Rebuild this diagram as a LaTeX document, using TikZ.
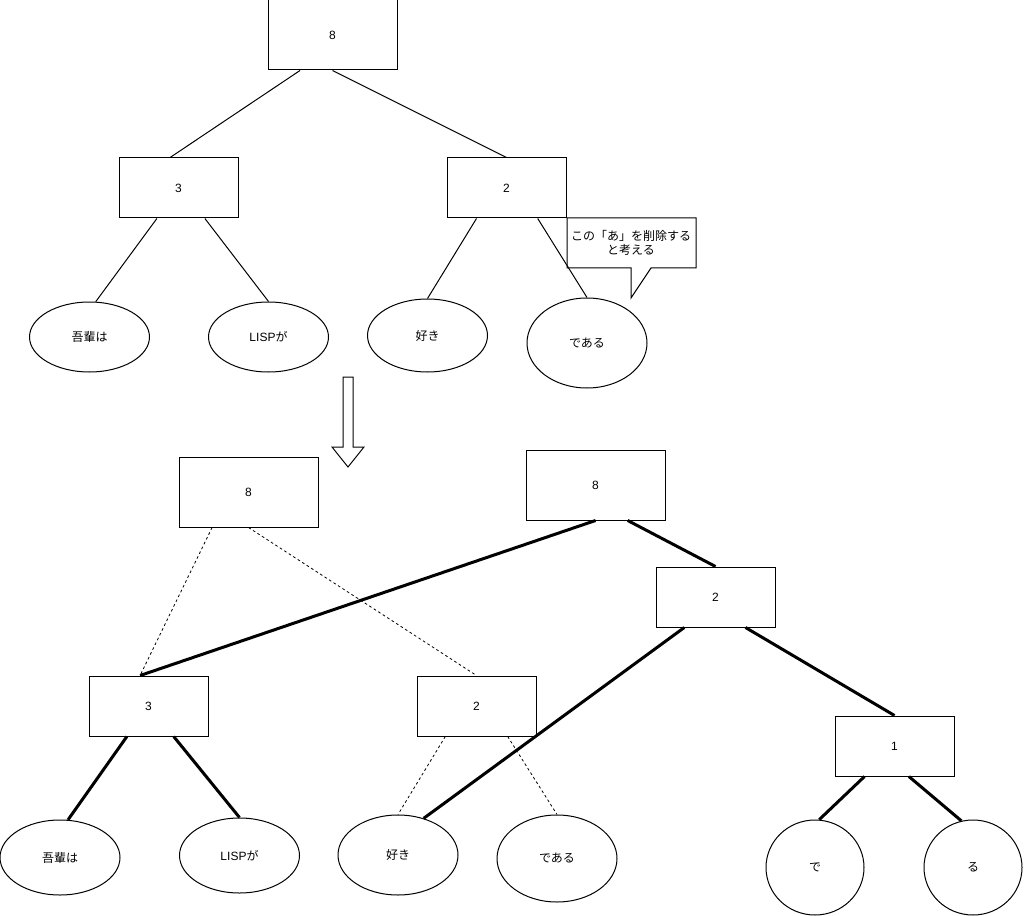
\documentclass[tikz,border=0pt]{standalone}
\usepackage{fontspec}
\setmainfont{Liberation Sans}
\newfontfamily\cjk{Noto Sans CJK JP}
\usetikzlibrary{shapes.geometric,calc}
\begin{document}
\begin{tikzpicture}[x=0.75pt,y=-0.75pt,
  every node/.style={font=\fontsize{9}{10.5}\selectfont},
  box/.style={draw, line width=0.75pt, minimum width=89.25pt, minimum height=45pt, inner sep=0pt},
  bigbox/.style={box, minimum width=96.75pt, minimum height=52.5pt},
  widebox/.style={box, minimum width=104.25pt, minimum height=52.5pt},
  leaf/.style={draw, ellipse, line width=0.75pt, minimum width=90pt, minimum height=52.5pt, inner sep=0pt},
  thin/.style={line width=0.75pt},
  heavy/.style={line width=2.25pt},
  dashline/.style={line width=0.6pt, dash pattern=on 2pt off 2pt},
]
\useasboundingbox (0,0) rectangle (1024,916);

% ---------- upper tree ----------
\node[bigbox] (t8) at (332.5,35) {8};
\node[box] (t3) at (178.5,188) {3};
\node[box] (t2) at (506.5,188) {2};
\node[leaf] (ta) at (89.5,337) {\cjk 吾輩は};
\node[leaf] (tb) at (268.5,337) {LISP\cjk が};
\node[leaf, minimum height=54.75pt] (tc) at (427.5,335.5) {\cjk 好き};
\node[leaf, minimum height=67.5pt] (td) at (587,343) {\cjk である};

\draw[thin] ($(t8.south west)!0.25!(t8.south east)$) -- ($(t3.north west)!0.43!(t3.north east)$);
\draw[thin] (t8.south) -- (t2.north);
\draw[thin] ($(t3.south west)!0.32!(t3.south east)$) -- (ta.80);
\draw[thin] ($(t3.south west)!0.72!(t3.south east)$) -- (tb.north);
\draw[thin] ($(t2.south west)!0.25!(t2.south east)$) -- (tc.north);
\draw[thin] ($(t2.south west)!0.76!(t2.south east)$) -- (td.north);

% callout
\draw[thin] (567,218) -- (696,218) -- (696,268) -- (651,268) -- (631,298) -- (631,268) -- (567,268) -- cycle;
\node[align=center] (note) at (631,243) {\cjk この「あ」を削除する\\\cjk と考える};

% hollow arrow
\draw[thin, line join=miter] (343,377) -- (353,377) -- (353,447) -- (364,447) -- (348,467) -- (332,447) -- (343,447) -- cycle;

% ---------- lower trees ----------
\node[widebox] (l8) at (248.5,492) {8};
\node[widebox] (r8) at (595.5,485) {8};
\node[box] (r2) at (715.5,597) {2};
\node[box] (l3) at (148.5,706) {3};
\node[box] (l2) at (476.5,706) {2};
\node[box] (r1) at (894.5,746) {1};
\node[leaf, minimum height=56.25pt] (la) at (60,857.5) {\cjk 吾輩は};
\node[leaf, minimum height=56.25pt] (lb) at (239.5,855.5) {LISP\cjk が};
\node[leaf, minimum height=60pt] (lc) at (398,855) {\cjk 好き};
\node[leaf, minimum height=65.25pt] (ld) at (557,858.5) {\cjk である};
\node[leaf, minimum width=73.5pt, minimum height=71.25pt] (le) at (815,867.5) {\cjk で};
\node[leaf, minimum width=73.5pt, minimum height=71.25pt] (lf) at (973,867.5) {\cjk る};

\draw[dashline] ($(l8.south west)!0.24!(l8.south east)$) -- ($(l3.north west)!0.43!(l3.north east)$);
\draw[dashline] (l8.south) -- (l2.north);
\draw[heavy] ($(r8.south west)!0.5!(r8.south east)$) -- ($(l3.north west)!0.43!(l3.north east)$);
\draw[heavy] ($(r8.south west)!0.73!(r8.south east)$) -- (r2.north);
\draw[heavy] ($(r2.south west)!0.24!(r2.south east)$) -- (lc.55);
\draw[heavy] ($(r2.south west)!0.75!(r2.south east)$) -- (r1.north);
\draw[heavy] ($(l3.south west)!0.32!(l3.south east)$) -- (la.78);
\draw[heavy] ($(l3.south west)!0.71!(l3.south east)$) -- (lb.north);
\draw[dashline] ($(l2.south west)!0.24!(l2.south east)$) -- (lc.north);
\draw[dashline] ($(l2.south west)!0.76!(l2.south east)$) -- (ld.north);
\draw[heavy] ($(r1.south west)!0.25!(r1.south east)$) -- (le.85);
\draw[heavy] ($(r1.south west)!0.62!(r1.south east)$) -- (lf.104);
\end{tikzpicture}
\end{document}
